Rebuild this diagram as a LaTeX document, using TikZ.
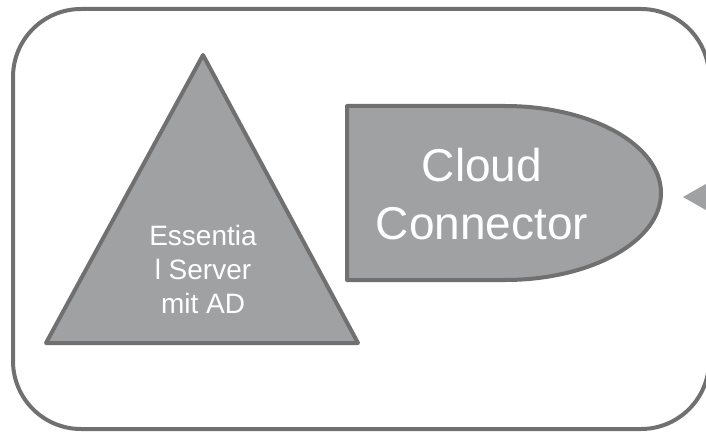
\documentclass[tikz,border=0pt]{standalone}
\usepackage{fontspec}
\setmainfont{Liberation Sans}
\usetikzlibrary{positioning}
\definecolor{boxfill}{HTML}{A0A1A3}
\definecolor{boxline}{HTML}{707070}
\tikzset{%
  frame/.style={draw=boxline, line width=4pt, rounded corners=68pt}, % outer frame
  solid shape/.style={fill=boxfill, draw=boxline, line width=4pt, line join=round},
  shape text/.style={text=white, align=center, inner sep=0pt}
}

\begin{document}
\begin{tikzpicture}[x=1pt, y=-1pt]
    \useasboundingbox (0,0) rectangle (706,433);
    \draw[frame] (13,9) rectangle (709,429);

    \coordinate (apex) at (203,55);
    \coordinate (baseR) at (358,343);
    \coordinate (baseL) at (46,343);
    \draw[solid shape] (apex) -- (baseR) -- (baseL) -- cycle;
    \node[shape text, font=\fontsize{28}{34}\selectfont] (server) at (203,269) {Essentia\\l Server\\mit AD};

    \coordinate (ccTL) at (347,106);
    \coordinate (ccBL) at (347,280);
    \draw[solid shape] (505,106) -- (ccTL) -- (ccBL) -- (505,280)
        arc[start angle=90, end angle=-90, x radius=156, y radius=87] -- cycle;
    \node[shape text, font=\fontsize{46}{58}\selectfont] (connector) at (482,194) {Cloud\\Connector};

    \fill[boxfill] (683,197) -- (712,180.5) -- (712,213.5) -- cycle;
\end{tikzpicture}
\end{document}
